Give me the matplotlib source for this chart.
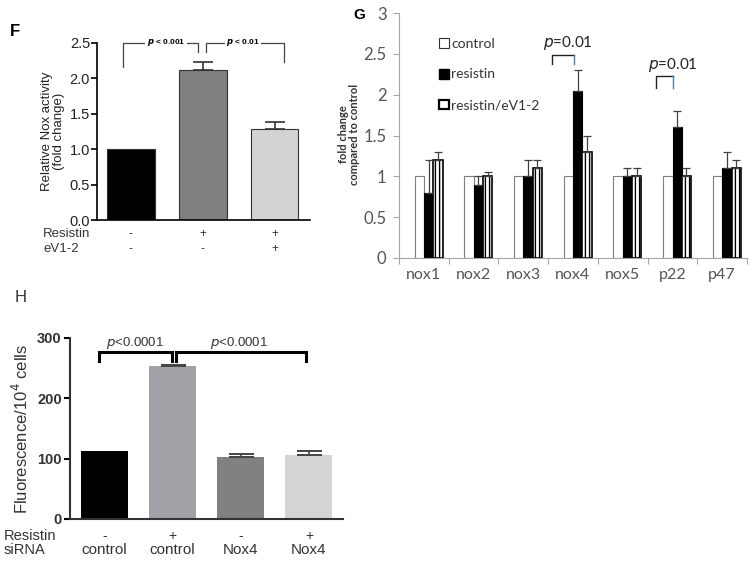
import numpy as np
import matplotlib.pyplot as plt
from matplotlib.patches import Patch
from matplotlib.transforms import blended_transform_factory

# panel F
f_vals = [1.0, 2.12, 1.28]
f_err = [0.0, 0.11, 0.10]
f_colors = ['black', '#808080', '#d3d3d3']
f_resistin = ['-', '+', '+']
f_ev12 = ['-', '-', '+']

# panel G
g_genes = ['nox1', 'nox2', 'nox3', 'nox4', 'nox5', 'p22', 'p47']
g_control = [1.0, 1.0, 1.0, 1.0, 1.0, 1.0, 1.0]
g_resistin = [0.8, 0.9, 1.0, 2.05, 1.0, 1.6, 1.1]
g_resistin_err = [0.4, 0.1, 0.2, 0.25, 0.1, 0.2, 0.2]
g_ev12 = [1.2, 1.0, 1.1, 1.3, 1.0, 1.0, 1.1]
g_ev12_err = [0.1, 0.05, 0.1, 0.2, 0.1, 0.1, 0.1]
g_labels = ['control', 'resistin', 'resistin/eV1-2']

# panel H
h_vals = [113, 253, 102, 106]
h_err = [0, 2, 5, 6]
h_colors = ['black', '#a2a2a6', '#818181', '#d4d4d4']
h_resistin = ['-', '+', '-', '+']
h_sirna = ['control', 'control', 'Nox4', 'Nox4']

W, H = 754, 566
fig = plt.figure(figsize=(7.54, 5.66), dpi=100)


def box(l, r, t, b):
    return [l / W, 1 - b / H, (r - l) / W, (b - t) / H]


arial = 'Liberation Sans'

# ---------------- F ----------------
axf = fig.add_axes(box(97, 310, 43, 220))
xf = np.arange(len(f_vals))
axf.bar(xf, f_vals, width=0.66, color=f_colors, edgecolor='#333333', linewidth=0.8)
axf.errorbar(xf[1:], f_vals[1:], yerr=[[0, 0], f_err[1:]], fmt='none',
             ecolor='#333333', elinewidth=1.2, capsize=7, capthick=1.2)
axf.set_xlim(-0.47, 2.49)
axf.set_ylim(0, 2.5)
axf.set_yticks(np.arange(0, 2.51, 0.5))
axf.set_yticklabels([f'{v:.1f}' for v in np.arange(0, 2.51, 0.5)], family=arial, fontsize=10.5,
                    color='#222222')
axf.set_xticks([])
for s in ['top', 'right']:
    axf.spines[s].set_visible(False)
for s in ['left', 'bottom']:
    axf.spines[s].set_linewidth(1.2)
axf.tick_params(axis='y', length=4, width=1.2, pad=1)
axf.set_ylabel('Relative Nox activity\n(fold change)', family=arial, fontsize=9.5, labelpad=3,
               linespacing=1.0, color='#222222')
tf = blended_transform_factory(axf.transData, axf.transAxes)
for i in range(3):
    axf.text(xf[i], -0.08, f_resistin[i], transform=tf, ha='center', va='center',
             family=arial, fontsize=8.5, color='#333333')
    axf.text(xf[i], -0.165, f_ev12[i], transform=tf, ha='center', va='center',
             family=arial, fontsize=8.5, color='#333333')
fig.text(43 / W, 1 - 234 / H, 'Resistin', family=arial, fontsize=9.5, va='center', color='#333333')
fig.text(43 / W, 1 - 249 / H, 'eV1-2', family=arial, fontsize=9.5, va='center', color='#333333')
# brackets
for x0, x1, y0, y1, lab, xt in [(-0.11, 0.93, 2.16, 2.37, r'$\boldsymbol{p}$ < 0.001', 0.49),
                                (1.04, 2.13, 2.37, 2.23, r'$\boldsymbol{p}$ < 0.01', 1.56)]:
    axf.plot([x0, x0, x1, x1], [y0, 2.5, 2.5, y1], color='#444444', lw=0.9, clip_on=False)
    axf.text(xt, 2.5, lab, ha='center', va='center', fontsize=6, fontweight='bold',
             family=arial,
             bbox=dict(facecolor='white', edgecolor='none', pad=1))
fig.text(10 / W, 1 - 32 / H, 'F', family=arial, fontsize=12, fontweight='bold', va='center')

# ---------------- G ----------------
calibri = 'Lato'
axg = fig.add_axes(box(399, 747, 13, 258))
xg = np.arange(len(g_genes))
bw = 0.187
off = 0.095
gray_spine = '#a6a6a6'
tick_col = '#555555'
axg.bar(xg + off - bw, g_control, width=bw, color='white', edgecolor='#7f7f7f', linewidth=0.8,
        label=g_labels[0])
axg.bar(xg + off, g_resistin, width=bw, color='black', edgecolor='black', linewidth=0.8,
        label=g_labels[1])
plt.rcParams['hatch.linewidth'] = 1.0
axg.bar(xg + off + bw, g_ev12, width=bw, color='white', edgecolor='black', linewidth=1.2,
        hatch='||||', label=g_labels[2])
axg.errorbar(xg + off, g_resistin, yerr=[np.zeros(7), g_resistin_err], fmt='none',
             ecolor='#404040', elinewidth=0.9, capsize=3, capthick=0.9)
axg.errorbar(xg + off + bw, g_ev12, yerr=[np.zeros(7), g_ev12_err], fmt='none',
             ecolor='#404040', elinewidth=0.9, capsize=3, capthick=0.9)
axg.set_xlim(-0.5, 6.5)
axg.set_ylim(0, 3)
axg.set_yticks(np.arange(0, 3.01, 0.5))
axg.set_yticklabels(['0', '0.5', '1', '1.5', '2', '2.5', '3'], family=calibri, fontsize=12,
                    color=tick_col)
axg.set_xticks(np.arange(-0.5, 6.6, 1))
axg.set_xticklabels([])
axg.set_xticks(xg, minor=True)
axg.set_xticklabels(g_genes, minor=True, family=calibri, fontsize=11.5, color=tick_col)
axg.tick_params(axis='x', which='minor', length=0, pad=7)
axg.tick_params(axis='x', which='major', length=4, color=gray_spine, direction='out')
axg.tick_params(axis='y', length=4, color=gray_spine, pad=5)
for s in ['top', 'right']:
    axg.spines[s].set_visible(False)
for s in ['left', 'bottom']:
    axg.spines[s].set_color(gray_spine)
    axg.spines[s].set_linewidth(0.8)
handles = [Patch(facecolor='white', edgecolor='#333333', linewidth=0.8),
           Patch(facecolor='black', edgecolor='black'),
           Patch(facecolor='white', edgecolor='black', linewidth=1.6)]
axg.legend(handles, g_labels, loc='upper left', bbox_to_anchor=(0.08, 0.95), frameon=False,
           prop={'family': calibri, 'size': 10}, handlelength=0.7, handleheight=0.7,
           handletextpad=0.15, labelspacing=1.35, labelcolor='#333333')
blue = '#4a7ebb'
for x0, x1, ytop, yleg, xt, yt in [(2.58, 3.02, 2.49, 2.38, 2.9, 2.63),
                                   (4.67, 5.01, 2.23, 2.08, 5.01, 2.36)]:
    axg.plot([x0, x0, x1], [yleg, ytop, ytop], color='#222222', lw=1.0)
    axg.plot([x1, x1], [ytop, yleg], color=blue, lw=1.0)
    axg.text(xt, yt, '$p$=0.01', ha='center', va='center', fontsize=11, family=calibri,
             color='#222222')
fig.text(349 / W, 1 - 134 / H, 'fold change\ncompared to control', rotation=90, ha='center',
         va='center', fontsize=8, fontweight='bold', family=calibri, linespacing=1.1,
         color='#333333')
fig.text(353 / W, 1 - 15 / H, 'G', family=arial, fontsize=11, fontweight='bold', va='center')

# ---------------- H ----------------
axh = fig.add_axes(box(70, 343, 338, 519))
xh = np.arange(len(h_vals))
axh.bar(xh, h_vals, width=0.69, color=h_colors, edgecolor='none')
axh.errorbar(xh[1:], h_vals[1:], yerr=[[0, 0, 0], h_err[1:]], fmt='none', ecolor='#444444',
             elinewidth=1.2, capsize=9, capthick=1.4)
axh.set_xlim(-0.505, 3.5)
axh.set_ylim(0, 300)
axh.set_yticks([0, 100, 200, 300])
axh.set_yticklabels(['0', '100', '200', '300'], family=arial, fontsize=10.5, fontweight='bold',
                    color='#333333')
axh.set_xticks([])
for s in ['top', 'right']:
    axh.spines[s].set_visible(False)
for s in ['left', 'bottom']:
    axh.spines[s].set_linewidth(1.5)
    axh.spines[s].set_color('#333333')
axh.tick_params(axis='y', length=4, width=1.5, pad=2)
axh.set_ylabel('Fluorescence/10$^{4}$ cells', family=arial, fontsize=12, labelpad=4,
               color='#333333')
th = blended_transform_factory(axh.transData, fig.transFigure)
for i in range(4):
    axh.text(xh[i], 1 - 536 / H, h_resistin[i], transform=th, ha='center', va='center',
             family=arial, fontsize=10, color='#333333')
    axh.text(xh[i], 1 - 550 / H, h_sirna[i], transform=th, ha='center', va='center',
             family=arial, fontsize=11, color='#333333')
fig.text(4 / W, 1 - 536 / H, 'Resistin', family=arial, fontsize=10.5, va='center', color='#333333')
fig.text(4 / W, 1 - 550 / H, 'siRNA', family=arial, fontsize=10.5, va='center', color='#333333')
for x0, x1, xt in [(-0.08, 0.99, 0.45), (1.05, 2.95, 1.98)]:
    axh.plot([x0, x0, x1, x1], [262, 277, 277, 262], color='black', lw=2.2,
             solid_joinstyle='miter', clip_on=False)
    axh.text(xt, 279, '$p$<0.0001', ha='center', va='bottom', family=arial, fontsize=9.5,
             color='#333333')
fig.text(15 / W, 1 - 297 / H, 'H', family=arial, fontsize=12, va='center', color='#333333')

fig.savefig('out.png', dpi=100)
